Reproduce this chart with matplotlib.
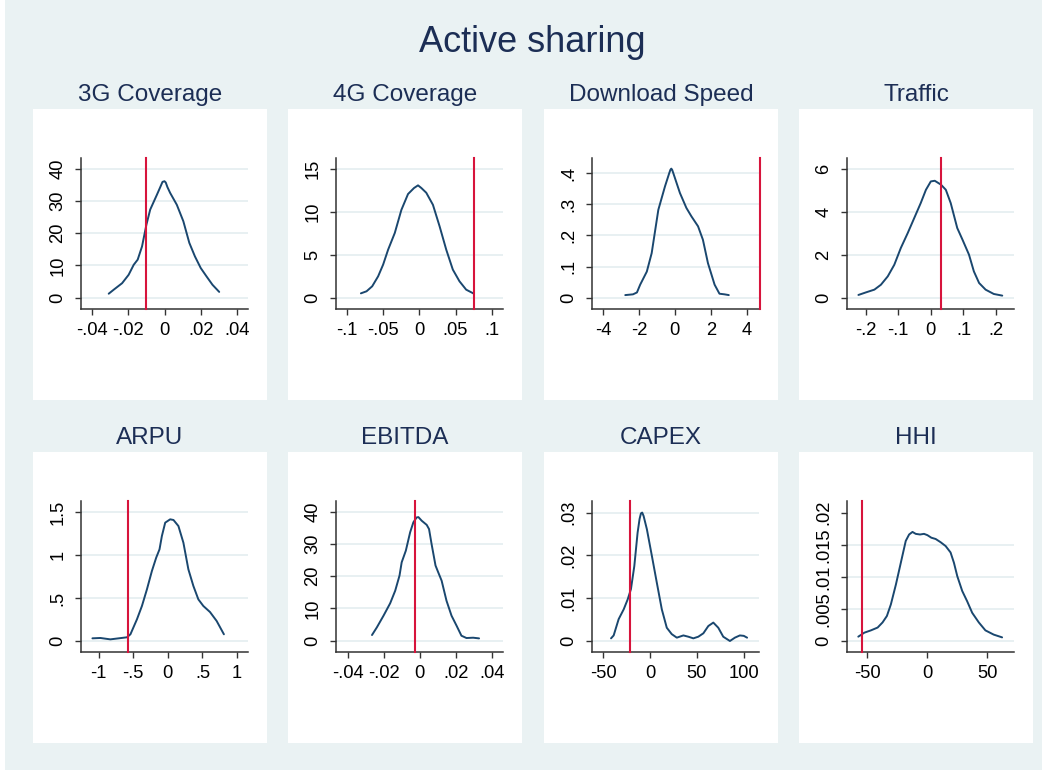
import numpy as np
import matplotlib.pyplot as plt
from matplotlib.patches import Rectangle

plt.rcParams.update({"font.family": ["Liberation Sans", "DejaVu Sans"]})

# Stata s2color-ish colours
BG = "#EAF2F3"
NAVY = "#1A476F"
RED = "#D7143C"
TITLE_C = "#1C2E55"
GRID_C = "#E4EDF0"
AXIS_C = "#333333"

titles = ["3G Coverage", "4G Coverage", "Download Speed", "Traffic",
          "ARPU", "EBITDA", "CAPEX", "HHI"]

# kernel density curves
cov3g_x = [-0.0308, -0.028, -0.0234, -0.0198, -0.017, -0.0148, -0.0124, -0.010, -0.0079,
           -0.0042, -0.0024, -0.0011, 0.0, 0.0007, 0.0016, 0.0031, 0.0068, 0.0104, 0.0137,
           0.0168, 0.02, 0.0232, 0.0265, 0.0302]
cov3g_y = [1.24, 2.5, 4.5, 7.1, 10.2, 11.8, 15.9, 22.6, 27.3, 31.9, 34.2, 35.9, 36.1, 35.7,
           34.3, 32.5, 28.8, 23.7, 17.0, 12.8, 9.2, 6.6, 4.0, 1.8]

cov4g_x = [-0.0807, -0.0729, -0.0651, -0.0569, -0.05, -0.0431, -0.0339, -0.0248, -0.0156,
           -0.0073, -0.0018, 0.0028, 0.0096, 0.0188, 0.028, 0.0372, 0.0463, 0.0555, 0.0647,
           0.0752]
cov4g_y = [0.50, 0.74, 1.32, 2.48, 3.84, 5.58, 7.52, 10.2, 12.05, 12.75, 13.06, 12.75, 12.2,
           10.8, 8.3, 5.58, 3.26, 1.9, 0.93, 0.47]

speed_x = [-2.76, -2.33, -2.11, -1.93, -1.56, -1.29, -0.92, -0.55, -0.31, -0.25, -0.20, -0.15,
           -0.09, 0.28, 0.64, 0.92, 1.29, 1.56, 1.84, 2.21, 2.48, 2.76, 3.0]
speed_y = [0.0086, 0.011, 0.017, 0.042, 0.084, 0.143, 0.282, 0.357, 0.40, 0.41, 0.414, 0.41,
           0.40, 0.336, 0.288, 0.261, 0.229, 0.186, 0.111, 0.042, 0.013, 0.011, 0.0086]

traffic_x = [-0.222, -0.198, -0.173, -0.153, -0.132, -0.112, -0.092, -0.071, -0.051, -0.031,
             -0.015, 0.0, 0.012, 0.031, 0.046, 0.061, 0.081, 0.097, 0.117, 0.132, 0.148,
             0.168, 0.193, 0.219]
traffic_y = [0.124, 0.248, 0.372, 0.6, 0.99, 1.53, 2.31, 3.0, 3.7, 4.4, 5.02, 5.41, 5.44, 5.26,
             5.02, 4.4, 3.24, 2.7, 2.0, 1.22, 0.68, 0.37, 0.17, 0.093]

arpu_x = [-1.089, -0.974, -0.83, -0.71, -0.59, -0.54, -0.446, -0.374, -0.302, -0.23, -0.168,
          -0.12, -0.086, -0.038, 0.034, 0.082, 0.153, 0.225, 0.297, 0.369, 0.441, 0.513,
          0.609, 0.705, 0.81]
arpu_y = [0.031, 0.035, 0.019, 0.031, 0.043, 0.078, 0.252, 0.407, 0.60, 0.814, 0.969, 1.066,
          1.22, 1.376, 1.415, 1.407, 1.337, 1.143, 0.833, 0.64, 0.484, 0.407, 0.337, 0.233,
          0.078]

ebitda_x = [-0.0265, -0.0238, -0.0201, -0.0164, -0.0136, -0.0112, -0.01, -0.0077, -0.0053,
            -0.0035, -0.0017, -0.0007, 0.0011, 0.0039, 0.0052, 0.0066, 0.0088, 0.0103,
            0.0122, 0.0149, 0.0177, 0.0205, 0.0232, 0.026, 0.0297, 0.033]
ebitda_y = [1.76, 4.13, 7.75, 11.6, 15.5, 20.2, 24.3, 27.9, 33.6, 36.7, 38.2, 38.3, 37.2, 35.9,
            34.6, 30.0, 23.3, 21.2, 18.6, 12.4, 7.75, 4.65, 1.55, 0.83, 0.93, 0.72]

capex_x = [-41.4, -38.6, -33.3, -27.9, -23.7, -20.2, -16.6, -13.1, -11.0, -9.55, -8.2, -6.7,
           -3.2, 2.1, 7.4, 12.7, 18.0, 23.3, 28.7, 35.7, 41.0, 46.3, 51.6, 57.0, 62.3, 67.6,
           72.9, 78.2, 85.3, 90.6, 95.9, 100.1, 103.6]
capex_y = [0.00062, 0.0013, 0.0051, 0.0074, 0.0097, 0.0121, 0.0175, 0.0253, 0.0285, 0.0298,
           0.0300, 0.0292, 0.0261, 0.0199, 0.0136, 0.0074, 0.0031, 0.0016, 0.00078, 0.0013,
           0.001, 0.00062, 0.001, 0.0018, 0.0035, 0.0043, 0.0031, 0.001, 0.0, 0.00078, 0.0013,
           0.0012, 0.00078]

hhi_x = [-57.5, -52.5, -47.0, -41.4, -37.3, -33.7, -30.4, -26.2, -22.1, -18.0, -15.2, -12.4,
         -9.7, -6.1, -2.8, 0.0, 3.3, 6.9, 11.0, 15.2, 19.3, 22.1, 24.9, 29.0, 33.1, 37.3, 42.8,
         48.3, 55.2, 62.2]
hhi_y = [0.00068, 0.0013, 0.00166, 0.0021, 0.0029, 0.0039, 0.0057, 0.0088, 0.0122, 0.0156,
         0.0166, 0.0170, 0.0167, 0.0166, 0.0167, 0.0165, 0.0161, 0.0159, 0.0154, 0.0148,
         0.0138, 0.0122, 0.0101, 0.0078, 0.0062, 0.0044, 0.0029, 0.00166, 0.001, 0.00057]

curves_x = [cov3g_x, cov4g_x, speed_x, traffic_x, arpu_x, ebitda_x, capex_x, hhi_x]
curves_y = [cov3g_y, cov4g_y, speed_y, traffic_y, arpu_y, ebitda_y, capex_y, hhi_y]

# observed (treated) value -> red vertical line
red_lines = [-0.0103, 0.0752, 4.71, 0.0316, -0.58, -0.0028, -20.9, -54.7]

xticks = [[-0.04, -0.02, 0, 0.02, 0.04], [-0.1, -0.05, 0, 0.05, 0.1], [-4, -2, 0, 2, 4],
          [-0.2, -0.1, 0, 0.1, 0.2], [-1, -0.5, 0, 0.5, 1], [-0.04, -0.02, 0, 0.02, 0.04],
          [-50, 0, 50, 100], [-50, 0, 50]]
yticks = [[0, 10, 20, 30, 40], [0, 5, 10, 15], [0, 0.1, 0.2, 0.3, 0.4], [0, 2, 4, 6],
          [0, 0.5, 1, 1.5], [0, 10, 20, 30, 40], [0, 0.01, 0.02, 0.03],
          [0, 0.005, 0.01, 0.015, 0.02]]
ygrids = [[0, 10, 20, 30, 40], [0, 5, 10, 15], [0, 0.1, 0.2, 0.3, 0.4], [0, 2, 4, 6],
          [0, 0.5, 1, 1.5], [0, 10, 20, 30, 40], [0, 0.01, 0.02, 0.03],
          [0, 0.005, 0.01, 0.015]]
xlims = [(-0.0461, 0.0461), (-0.1151, 0.1156), (-4.61, 4.68), (-0.257, 0.255),
         (-1.254, 1.158), (-0.0465, 0.0463), (-61.7, 116.3), (-66.9, 72.1)]
ylims = [(-3.5, 43.3), (-1.32, 16.24), (-0.036, 0.448), (-0.53, 6.5),
         (-0.128, 1.628), (-3.5, 43.3), (-0.00257, 0.0327), (-0.00171, 0.02182)]


def stata_fmt(v):
    s = f"{v:g}"
    return s.replace("0.", ".") if abs(v) < 1 else s


W, H = 1047, 770
fig = plt.figure(figsize=(W / 100, H / 100), dpi=100, facecolor="white")
fig.patches.append(Rectangle((5 / W, 0), (W - 10) / W, 1, transform=fig.transFigure,
                             facecolor=BG, edgecolor="none", zorder=-10))

fig.text(532 / W, 1 - 52 / H, "Active sharing", ha="center", va="baseline",
         fontsize=26, color=TITLE_C)

panel_left = [33, 288, 544, 799]
panel_top = [109, 452]
PW, PH = 234, 291

for i in range(8):
    r, c = divmod(i, 4)
    pl, pt = panel_left[c], panel_top[r]
    fig.patches.append(Rectangle((pl / W, 1 - (pt + PH) / H), PW / W, PH / H,
                                 transform=fig.transFigure, facecolor="white",
                                 edgecolor="none", zorder=-5))
    fig.text((pl + PW / 2) / W, 1 - (pt - 8) / H, titles[i], ha="center",
             va="baseline", fontsize=17.5, color=TITLE_C)

    ax = fig.add_axes([(pl + 48) / W, 1 - (pt + 200) / H, 167 / W, 151 / H])
    ax.set_facecolor("none")
    for s in ["top", "right"]:
        ax.spines[s].set_visible(False)
    for s in ["left", "bottom"]:
        ax.spines[s].set_color(AXIS_C)
        ax.spines[s].set_linewidth(1.1)

    for gv in ygrids[i]:
        ax.axhline(gv, color=GRID_C, lw=1.2, zorder=0)

    ax.plot(curves_x[i], curves_y[i], color=NAVY, lw=1.4, zorder=3,
            solid_joinstyle="round", solid_capstyle="round")
    ax.axvline(red_lines[i], color=RED, lw=1.5, zorder=4, clip_on=False)

    ax.set_xlim(*xlims[i])
    ax.set_ylim(*ylims[i])
    ax.set_xticks(xticks[i])
    ax.set_xticklabels([stata_fmt(v) for v in xticks[i]])
    ax.set_yticks(yticks[i])
    ax.set_yticklabels([stata_fmt(v) for v in yticks[i]], rotation=90, va="center")
    ax.tick_params(axis="both", length=4, width=1.0, color=AXIS_C, labelsize=13.2,
                   labelcolor="black")
    ax.tick_params(axis="x", pad=5.5)
    ax.tick_params(axis="y", pad=6.5)

fig.savefig("out.png", dpi=100, facecolor=fig.get_facecolor())
